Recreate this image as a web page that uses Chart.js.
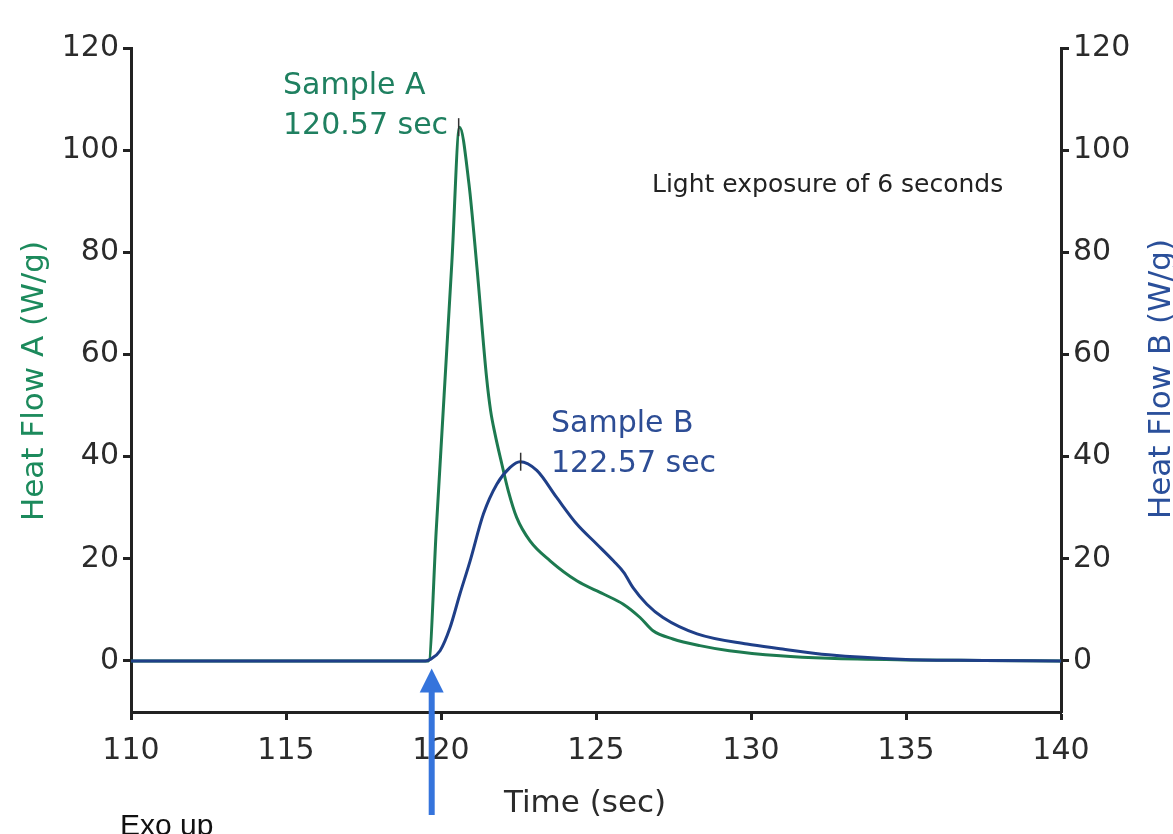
<!DOCTYPE html>
<html>
<head>
<meta charset="utf-8">
<script src="https://cdn.jsdelivr.net/npm/chart.js@4.4.1/dist/chart.umd.min.js"></script>
<style>
  html, body { margin: 0; padding: 0; background: #fff; }
  #wrap { width: 1173px; height: 834px; }
</style>
</head>
<body>
<div id="wrap"><canvas id="dsc"></canvas></div>
<script>
// Time (sec) and heat flow (W/g)
const timeA = [110, 115, 119.0, 119.6, 119.85, 120.1, 120.35, 120.6, 120.9, 121.16, 121.47, 121.6, 121.74, 121.96, 122.17, 122.44, 122.87, 123.52, 124.38, 125.24, 125.88, 126.42, 126.84, 127.48, 128.35, 129.3, 130.94, 132.5, 135, 137.5, 140];
const flowA = [0, 0, 0, 0, 26, 52, 78, 104.5, 93.5, 77, 55.5, 49, 44.5, 38.6, 33.3, 28.1, 23.5, 19.6, 15.7, 13.1, 11.1, 8.5, 5.9, 4.3, 3.0, 2.0, 1.0, 0.5, 0.2, 0.1, 0];

const timeB = [110, 115, 119.5, 119.65, 119.97, 120.29, 120.61, 120.94, 121.37, 121.8, 122.23, 122.55, 123.09, 123.73, 124.38, 125.02, 125.56, 125.9, 126.2, 126.64, 127.16, 128.26, 129.87, 130.94, 132.5, 135, 137.5, 140];
const flowB = [0, 0, 0, 0.3, 2, 6.5, 13.1, 19.6, 28.8, 34.6, 37.9, 39, 37.3, 32, 26.8, 22.9, 19.6, 17.3, 14.3, 11.1, 8.5, 5.3, 3.3, 2.4, 1.2, 0.3, 0.1, 0];

const peakA = { time: 120.57, flow: 104.5 };
const peakB = { time: 122.57, flow: 39 };

const xTicks = [110, 115, 120, 125, 130, 135, 140];
const yTicks = [0, 20, 40, 60, 80, 100, 120];

const FONT = '"DejaVu Sans", sans-serif';
const GREEN = '#1d7a50';
const BLUE = '#1f3f88';

function toPoints(xs, ys) {
    return xs.map((x, i) => ({ x: x, y: ys[i] }));
}

const tickFont = { family: FONT, size: 30 };

// annotations, arrow and axis titles drawn on top
const extras = {
    id: 'extras',
    afterDraw(chart) {
        const ctx = chart.ctx;
        const xs = chart.scales.x;
        const ys = chart.scales.yA;
        ctx.save();
        ctx.textBaseline = 'middle';
        ctx.textAlign = 'left';

        ctx.font = '30px ' + FONT;
        ctx.fillStyle = '#1f8060';
        ctx.fillText('Sample A', 283, 86);
        ctx.fillText('120.57 sec', 283, 126);

        ctx.fillStyle = '#2d4d95';
        ctx.fillText('Sample B', 551, 424);
        ctx.fillText('122.57 sec', 551, 464);

        ctx.font = '25px ' + FONT;
        ctx.fillStyle = '#222';
        ctx.fillText('Light exposure of 6 seconds', 652, 185);

        // x title
        ctx.font = '31px ' + FONT;
        ctx.textAlign = 'center';
        ctx.fillStyle = '#2b2b2b';
        ctx.fillText('Time (sec)', 585, 804);

        // left title
        ctx.save();
        ctx.translate(35, 381);
        ctx.rotate(-Math.PI / 2);
        ctx.fillStyle = '#1c8a5c';
        ctx.fillText('Heat Flow A (W/g)', 0, 0);
        ctx.restore();

        // right title, same reading direction, clipped by the page edge
        ctx.save();
        ctx.translate(1162, 379);
        ctx.rotate(-Math.PI / 2);
        ctx.fillStyle = '#2a4f9a';
        ctx.fillText('Heat Flow B (W/g)', 0, 0);
        ctx.restore();

        // light-on arrow
        const ax = xs.getPixelForValue(119.7);
        const tipY = ys.getPixelForValue(-1.5);
        ctx.fillStyle = '#3574dc';
        ctx.beginPath();
        ctx.moveTo(ax, tipY);
        ctx.lineTo(ax - 12, tipY + 24);
        ctx.lineTo(ax + 12, tipY + 24);
        ctx.closePath();
        ctx.fill();
        ctx.fillRect(ax - 3, tipY + 22, 6, 815 - tipY - 22);

        ctx.font = '30px "Liberation Sans", Arial, sans-serif';
        ctx.textAlign = 'left';
        ctx.textBaseline = 'top';
        ctx.fillStyle = '#111';
        ctx.fillText('Exo up', 120, 812);
        ctx.restore();
    }
};

const axisStyle = {
    grid: { drawOnChartArea: false, drawTicks: true, tickLength: 8, tickWidth: 3, tickColor: '#222' },
    border: { display: true, color: '#222', width: 3 }
};

new Chart(document.getElementById('dsc'), {
    type: 'line',
    data: {
        datasets: [
            {
                label: 'Sample B',
                data: toPoints(timeB, flowB),
                yAxisID: 'yB',
                borderColor: BLUE,
                borderWidth: 3,
                pointRadius: 0,
                cubicInterpolationMode: 'monotone',
                order: 1
            },
            {
                label: 'Sample A',
                data: toPoints(timeA, flowA),
                yAxisID: 'yA',
                borderColor: GREEN,
                borderWidth: 3,
                pointRadius: 0,
                cubicInterpolationMode: 'monotone',
                order: 2
            },
            {
                label: 'peaks',
                type: 'scatter',
                data: [{ x: peakA.time, y: peakA.flow }, { x: peakB.time, y: peakB.flow }],
                yAxisID: 'yA',
                pointStyle: 'line',
                rotation: 90,
                pointRadius: 9,
                borderColor: '#333',
                borderWidth: 1.5,
                order: 0
            }
        ]
    },
    options: {
        responsive: true,
        maintainAspectRatio: false,
        animation: false,
        layout: { padding: { top: 48, left: 0, right: 0, bottom: 0 } },
        plugins: { legend: { display: false }, tooltip: { enabled: false } },
        scales: {
            x: {
                type: 'linear',
                min: 110,
                max: 140,
                afterBuildTicks: s => { s.ticks = xTicks.map(v => ({ value: v })); },
                afterFit: s => { s.height = 122; },
                ticks: { font: tickFont, color: '#2b2b2b', padding: 13, maxRotation: 0 },
                ...axisStyle
            },
            yA: {
                position: 'left',
                min: -10,
                max: 120,
                afterBuildTicks: s => { s.ticks = yTicks.map(v => ({ value: v })); },
                afterFit: s => { s.width = 131; },
                ticks: { font: tickFont, color: '#2b2b2b', padding: 4 },
                ...axisStyle
            },
            yB: {
                position: 'right',
                min: -10,
                max: 120,
                afterBuildTicks: s => { s.ticks = yTicks.map(v => ({ value: v })); },
                afterFit: s => { s.width = 112; },
                ticks: { font: tickFont, color: '#2b2b2b', padding: 4 },
                ...axisStyle
            }
        }
    },
    plugins: [extras]
});
</script>
</body>
</html>
